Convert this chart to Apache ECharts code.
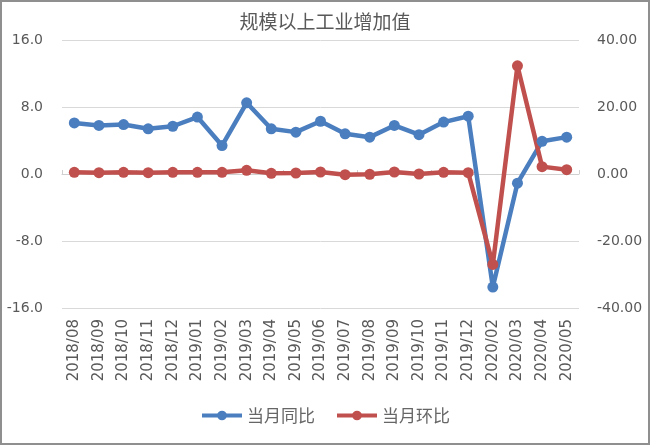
<!DOCTYPE html>
<html><head><meta charset="utf-8">
<script src="https://cdn.jsdelivr.net/npm/echarts@6/dist/echarts.min.js"></script>
<style>html,body{margin:0;padding:0;background:#fff}#c{width:646px;height:441px;border:2px solid #8f8f8f}</style>
</head><body><div id="c"></div>
<script>
const title = '规模以上工业增加值';
const categories = ['2018/08','2018/09','2018/10','2018/11','2018/12','2019/01','2019/02','2019/03','2019/04','2019/05','2019/06','2019/07','2019/08','2019/09','2019/10','2019/11','2019/12','2020/02','2020/03','2020/04','2020/05'];
const yoyName = '当月同比';
const momName = '当月环比';
const yoy = [6.1, 5.8, 5.9, 5.4, 5.7, 6.8, 3.4, 8.5, 5.4, 5.0, 6.3, 4.8, 4.4, 5.8, 4.7, 6.2, 6.9, -13.5, -1.1, 3.9, 4.4];
const mom = [0.5, 0.4, 0.5, 0.4, 0.5, 0.5, 0.5, 1.1, 0.2, 0.3, 0.6, -0.2, -0.1, 0.6, 0.0, 0.5, 0.4, -27.0, 32.3, 2.2, 1.3];
const leftTicks = {min: -16, max: 16, interval: 8};
const rightTicks = {min: -40, max: 40, interval: 20};

const chart = echarts.init(document.getElementById('c'));
const font = "'DejaVu Sans','Noto Sans CJK SC',sans-serif";
const cjk = "'Noto Sans CJK SC',sans-serif";
const gray = '#595959';
chart.setOption({
  animation: false,
  textStyle: {fontFamily: font},
  title: {text: title, left: 'center', top: 5, textStyle: {fontSize: 19, fontWeight: 'normal', color: gray, fontFamily: cjk}},
  grid: {left: 60, right: 69, top: 38, bottom: 135},
  legend: {top: 400, left: 'center', itemWidth: 40, itemHeight: 12, itemGap: 20,
    lineStyle: {width: 4},
    textStyle: {fontSize: 17, color: '#666666', fontFamily: cjk},
    data: [yoyName, momName]},
  xAxis: [
    {type: 'category', data: categories, position: 'bottom', boundaryGap: true,
     axisLine: {show: false, onZero: false}, axisTick: {show: false},
     axisLabel: {rotate: 90, fontSize: 15, color: gray, margin: 11, interval: 0}},
    {type: 'category', data: categories, position: 'bottom', boundaryGap: true,
     axisLine: {show: true, onZero: true, onZeroAxisIndex: 0, lineStyle: {color: '#d0d0d0', width: 1}},
     axisTick: {show: true, inside: true, length: 4, lineStyle: {color: '#d0d0d0'}},
     axisLabel: {show: false}}
  ],
  yAxis: [
    {type: 'value', min: leftTicks.min, max: leftTicks.max, interval: leftTicks.interval,
     axisLine: {show: false}, axisTick: {show: false},
     axisLabel: {fontSize: 14, color: gray, margin: 19, formatter: v => v.toFixed(1)},
     splitLine: {lineStyle: {color: '#d9d9d9', width: 1}}},
    {type: 'value', min: rightTicks.min, max: rightTicks.max, interval: rightTicks.interval,
     axisLine: {show: false}, axisTick: {show: false},
     axisLabel: {fontSize: 14, color: gray, margin: 18, formatter: v => v.toFixed(2)},
     splitLine: {show: false}}
  ],
  series: [
    {name: yoyName, type: 'line', data: yoy, xAxisIndex: 0, yAxisIndex: 0,
     symbol: 'circle', symbolSize: 11, showAllSymbol: true,
     lineStyle: {width: 4.5, color: '#4a7ebf'}, itemStyle: {color: '#4a7ebf'}},
    {name: momName, type: 'line', data: mom, xAxisIndex: 0, yAxisIndex: 1,
     symbol: 'circle', symbolSize: 11, showAllSymbol: true,
     lineStyle: {width: 4.5, color: '#c0504d'}, itemStyle: {color: '#c0504d'}}
  ]
});
</script></body></html>
